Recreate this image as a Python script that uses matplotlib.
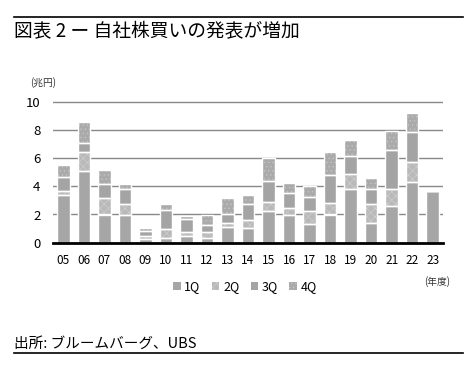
import matplotlib
matplotlib.use("Agg")
import matplotlib.pyplot as plt
from matplotlib.lines import Line2D
from matplotlib.patches import Patch
import numpy as np

plt.rcParams['font.family'] = ['Noto Sans CJK JP', 'DejaVu Sans']
plt.rcParams['hatch.linewidth'] = 0.5

years = ['05', '06', '07', '08', '09', '10', '11', '12', '13', '14',
         '15', '16', '17', '18', '19', '20', '21', '22', '23']
q1 = [3.35, 5.05, 2.00, 1.95, 0.25, 0.30, 0.50, 0.30, 1.10, 1.05,
      2.25, 1.95, 1.35, 2.00, 3.80, 1.40, 2.60, 4.30, 3.65]
q2 = [0.35, 1.35, 1.20, 0.80, 0.25, 0.70, 0.25, 0.45, 0.30, 0.55,
      0.65, 0.50, 0.90, 0.85, 1.10, 1.35, 1.20, 1.40, 0.00]
q3 = [0.95, 0.70, 0.95, 1.05, 0.30, 1.35, 0.90, 0.50, 0.65, 1.15,
      1.50, 1.10, 1.00, 1.95, 1.25, 1.05, 2.75, 2.15, 0.00]
q4 = [0.85, 1.45, 1.00, 0.35, 0.25, 0.40, 0.25, 0.70, 1.15, 0.60,
      1.60, 0.70, 0.75, 1.65, 1.15, 0.80, 1.35, 1.35, 0.00]
series_labels = ['1Q', '2Q', '3Q', '4Q']
yticks = [0, 2, 4, 6, 8, 10]

W, H = 476, 369
fig = plt.figure(figsize=(W / 100, H / 100), dpi=100)

ymax = 10.25
ax_left, ax_right = 53 / W, 443 / W
ax_bottom = 1 - 242.7 / H
ax_h = (242.7 - 101.7) / H * ymax / 10
ax = fig.add_axes([ax_left, ax_bottom, ax_right - ax_left, ax_h])

x = np.arange(len(years))
bw = 0.61
styles = [
    dict(face='#a6a6a6', hatch=None, hcol='#a6a6a6'),
    dict(face='#b9b9b9', hatch='xxxx', hcol='#cdcdcd'),
    dict(face='#a4a4a4', hatch=None, hcol='#a4a4a4'),
    dict(face='#aaaaaa', hatch='....', hcol='#c4c4c4'),
]
bottom = np.zeros(len(years))
for vals, st in zip([q1, q2, q3, q4], styles):
    v = np.array(vals)
    ax.bar(x, v, bw, bottom=bottom, color=st['face'], edgecolor=st['hcol'],
           hatch=st['hatch'], linewidth=0, zorder=3)
    ax.bar(x, v, bw, bottom=bottom, facecolor='none', edgecolor='white',
           linewidth=1.0, zorder=4)
    bottom += v

ax.set_xlim(-0.5, len(years) - 0.5)
ax.set_ylim(0, ymax)
ax.set_yticks(yticks)
ax.set_yticklabels([str(t) for t in yticks], fontsize=9.5)
ax.set_xticks(x)
ax.set_xticklabels(years, fontsize=8.5)
ax.tick_params(axis='both', length=0)
ax.tick_params(axis='y', pad=9)
ax.tick_params(axis='x', pad=8)
for s in ['left', 'right', 'top']:
    ax.spines[s].set_visible(False)
ax.spines['bottom'].set_linewidth(2.0)
ax.spines['bottom'].set_color('black')
ax.spines['bottom'].set_zorder(5)
ax.yaxis.grid(True, color='#888888', linewidth=1.0, zorder=0)
ax.set_axisbelow(True)

fig.text(30 / W, 1 - 83 / H, '(兆円)', fontsize=7, va='center', ha='left', color='#333333')
fig.text(437 / W, 1 - 282 / H, '(年度)', fontsize=7, va='center', ha='center', color='#333333')

handles = [Patch(facecolor=st['face'], edgecolor=st['hcol'], hatch=st['hatch'], linewidth=0)
           for st in styles]
fig.legend(handles, series_labels, loc='center', bbox_to_anchor=(245 / W, 1 - 287 / H),
           ncol=4, frameon=False, fontsize=9, handlelength=0.6, handleheight=0.6,
           handletextpad=0.3, columnspacing=0.9)

fig.text(14 / W, 1 - 32 / H, '図表 2 ー 自社株買いの発表が増加', fontsize=13.5,
         va='center', ha='left', color='black')
fig.add_artist(Line2D([14 / W, 463 / W], [1 - 16.5 / H, 1 - 16.5 / H], color='black', lw=1.2))

fig.text(14 / W, 1 - 344 / H, '出所: ブルームバーグ、UBS', fontsize=10.5,
         va='center', ha='left', color='black')
fig.add_artist(Line2D([14 / W, 463 / W], [1 - 353 / H, 1 - 353 / H], color='black', lw=1.2))

fig.savefig('out.png', dpi=100, facecolor='white')
